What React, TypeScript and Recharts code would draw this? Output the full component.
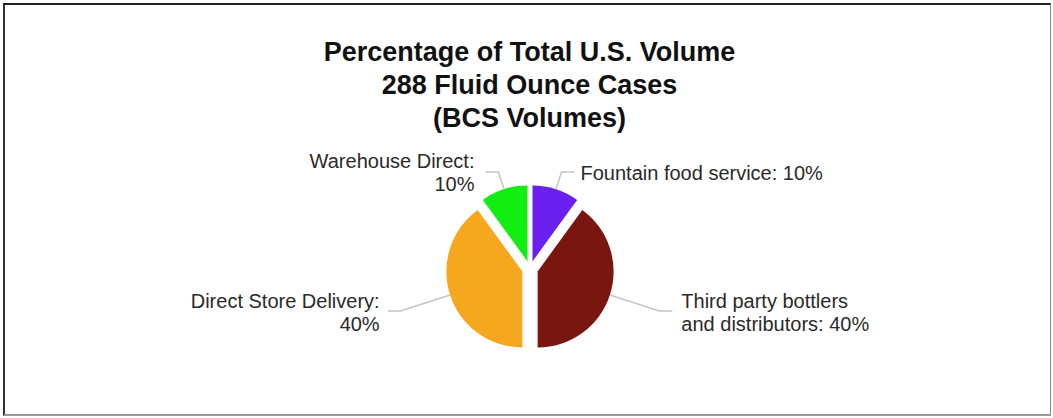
import React from "react";
import { PieChart, Pie, Cell, Sector } from "recharts";

const categories = [
	"Fountain food service",
	"Third party bottlers and distributors",
	"Direct Store Delivery",
	"Warehouse Direct",
];
const shares = [10, 40, 40, 10];
const labelLines = [
	["Fountain food service: 10%"],
	["Third party bottlers", "and distributors: 40%"],
	["Direct Store Delivery:", "40%"],
	["Warehouse Direct:", "10%"],
];
const colors = ["#6a20ee", "#7a1610", "#f5a81e", "#12ee12"];
const titleLines = [
	"Percentage of Total U.S. Volume",
	"288 Fluid Ounce Cases",
	"(BCS Volumes)",
];

const data = categories.map((name, i) => ({ name, value: shares[i], idx: i }));

const RAD = Math.PI / 180;
const EXPLODE = 8;
const FONT = "'Liberation Sans', Arial, Helvetica, sans-serif";

const ExplodedSector = (props: any) => {
	const { cx, cy, midAngle } = props;
	const dx = EXPLODE * Math.cos(-midAngle * RAD);
	const dy = EXPLODE * Math.sin(-midAngle * RAD);
	return <Sector {...props} cx={cx + dx} cy={cy + dy} />;
};

const renderLabel = (props: any) => {
	const { cx, cy, midAngle, outerRadius, percent, index } = props;
	const cos = Math.cos(-midAngle * RAD);
	const sin = Math.sin(-midAngle * RAD);
	const r0 = outerRadius + EXPLODE;
	const big = percent >= 0.2;
	const r1 = r0 + (big ? 52 : 18);
	const x0 = cx + r0 * cos;
	const y0 = cy + r0 * sin;
	const x1 = cx + r1 * cos;
	const y1 = cy + r1 * sin;
	const right = cos >= 0;
	const x2 = x1 + (right ? 13 : -13);
	// small gap on the right, a wider one on the left (as in the original)
	const tx = x2 + (right ? (big ? 9 : 6) : big ? -8 : -11);
	const lines = labelLines[index];
	const firstBase = y1 + 8 - ((lines.length - 1) * 23) / 2;
	return (
		<g>
			<polyline
				points={`${x0},${y0} ${x1},${y1} ${x2},${y1}`}
				fill="none"
				stroke="#c4c4c4"
				strokeWidth={1.5}
			/>
			<text
				x={tx}
				y={firstBase}
				textAnchor={right ? "start" : "end"}
				fill="#2a2a2a"
				fontSize={20}
				fontFamily={FONT}
			>
				{lines.map((l, i) => (
					<tspan key={i} x={tx} y={firstBase + i * 23}>
						{l}
					</tspan>
				))}
			</text>
		</g>
	);
};

export default function App() {
	return (
		<div
			style={{
				position: "fixed",
				left: 0,
				top: 0,
				width: 1053,
				height: 418,
				background: "#fff",
				fontFamily: FONT,
			}}
		>
			<div
				style={{
					position: "absolute",
					left: 3,
					top: 3,
					width: 1045,
					height: 409,
					borderTop: "2px solid #222",
					borderLeft: "2px solid #333",
					borderRight: "1px solid #888",
					borderBottom: "2px solid #999",
				}}
			/>
			<div
				style={{
					position: "absolute",
					left: 0,
					top: 36,
					width: 1059,
					textAlign: "center",
					fontWeight: "bold",
					fontSize: 27,
					lineHeight: "33px",
					color: "#111",
				}}
			>
				{titleLines.map((t) => (
					<div key={t}>{t}</div>
				))}
			</div>
			<div style={{ position: "absolute", left: 0, top: 0 }}>
				<PieChart
					width={1053}
					height={418}
					margin={{ top: 0, right: 0, bottom: 0, left: 0 }}
				>
					<Pie
						data={data}
						dataKey="value"
						nameKey="name"
						cx={530}
						cy={269}
						outerRadius={76}
						startAngle={90}
						endAngle={-270}
						stroke="none"
						shape={ExplodedSector}
						label={renderLabel}
						labelLine={false}
						isAnimationActive={false}
					>
						{data.map((d) => (
							<Cell key={d.name} fill={colors[d.idx]} />
						))}
					</Pie>
				</PieChart>
			</div>
		</div>
	);
}
